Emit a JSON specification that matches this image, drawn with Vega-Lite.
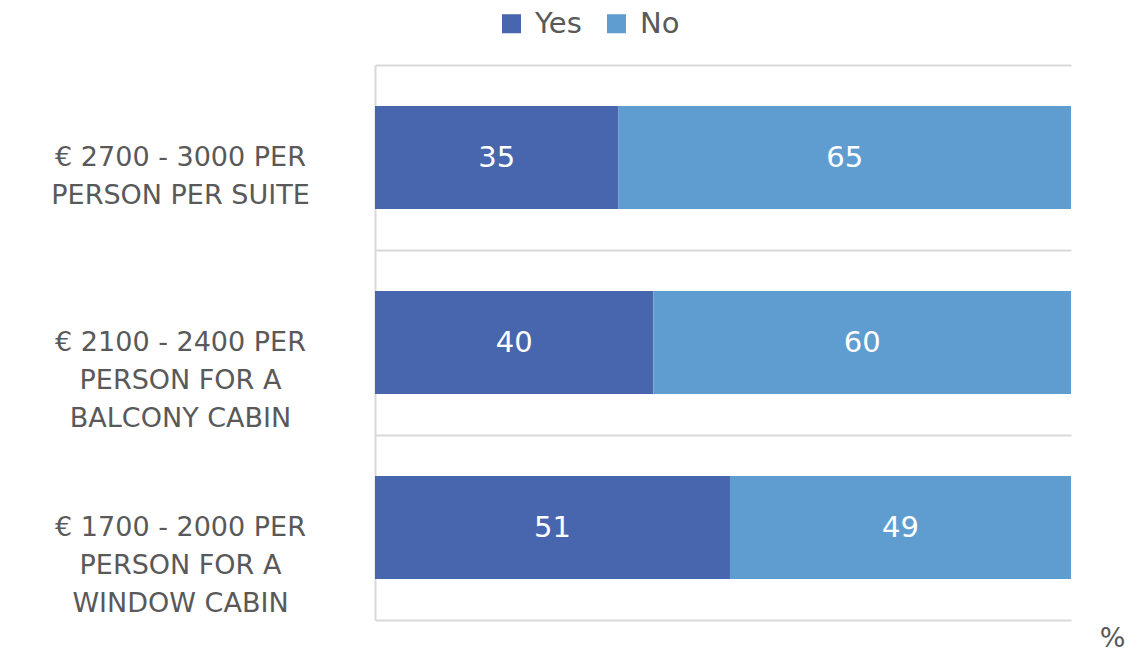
{
  "$schema": "https://vega.github.io/schema/vega-lite/v6.json",
  "autosize": {"type": "none"},
  "width": 696,
  "height": 555,
  "padding": {"left": 375, "top": 65, "right": 75, "bottom": 34},
  "background": "white",
  "config": {"view": {"stroke": null}},
  "data": {
    "values": [
      {"cat": "€ 2700 - 3000 PER|PERSON PER SUITE", "answer": "Yes", "ord": 1, "value": 35},
      {"cat": "€ 2700 - 3000 PER|PERSON PER SUITE", "answer": "No", "ord": 2, "value": 65},
      {"cat": "€ 2100 - 2400 PER|PERSON FOR A|BALCONY CABIN", "answer": "Yes", "ord": 1, "value": 40},
      {"cat": "€ 2100 - 2400 PER|PERSON FOR A|BALCONY CABIN", "answer": "No", "ord": 2, "value": 60},
      {"cat": "€ 1700 - 2000 PER|PERSON FOR A|WINDOW CABIN", "answer": "Yes", "ord": 1, "value": 51},
      {"cat": "€ 1700 - 2000 PER|PERSON FOR A|WINDOW CABIN", "answer": "No", "ord": 2, "value": 49}
    ]
  },
  "encoding": {
    "y": {
      "field": "cat",
      "type": "nominal",
      "sort": null,
      "scale": {"paddingInner": 0, "paddingOuter": 0},
      "axis": {
        "title": null,
        "ticks": false,
        "domain": true,
        "domainColor": "#d9d9d9",
        "domainWidth": 2,
        "grid": true,
        "gridColor": "#d9d9d9",
        "gridWidth": 2,
        "tickBand": "extent",
        "labelExpr": "split(datum.label, '|')",
        "labelAlign": "center",
        "labelBaseline": "middle",
        "labelPadding": 195,
        "labelFont": "DejaVu Sans",
        "labelFontSize": 27,
        "labelLineHeight": 38,
        "labelColor": "#595959",
        "labelLimit": 400
      }
    },
    "x": {
      "field": "value",
      "type": "quantitative",
      "stack": "zero",
      "scale": {"domain": [0, 100], "nice": false},
      "axis": {
        "labels": false,
        "ticks": false,
        "domain": false,
        "grid": false,
        "title": "%",
        "titleFont": "DejaVu Sans",
        "titleFontSize": 27,
        "titleFontWeight": "normal",
        "titleColor": "#595959",
        "titleAlign": "center",
        "titleBaseline": "middle",
        "titleAnchor": null,
        "titleX": 737,
        "titleY": 18
      }
    },
    "order": {"field": "ord", "type": "quantitative"}
  },
  "layer": [
    {
      "mark": {"type": "bar", "stroke": null, "height": {"band": 0.557}},
      "encoding": {
        "color": {
          "field": "answer",
          "type": "nominal",
          "scale": {"domain": ["Yes", "No"], "range": ["#4866ad", "#5f9dd1"]},
          "legend": {
            "title": null,
            "orient": "none",
            "direction": "horizontal",
            "legendX": 122,
            "legendY": -56,
            "symbolType": "square",
            "symbolSize": 361,
            "symbolStrokeWidth": 0,
            "symbolOpacity": 1,
            "labelFont": "DejaVu Sans",
            "labelFontSize": 29,
            "labelColor": "#595959",
            "labelOffset": 9,
            "columnPadding": 20
          }
        }
      }
    },
    {
      "mark": {"type": "text", "color": "white", "font": "DejaVu Sans", "fontSize": 29, "align": "center", "baseline": "middle"},
      "encoding": {
        "x": {"field": "value", "type": "quantitative", "stack": "zero", "bandPosition": 0.5},
        "text": {"field": "value", "type": "quantitative"}
      }
    }
  ]
}
